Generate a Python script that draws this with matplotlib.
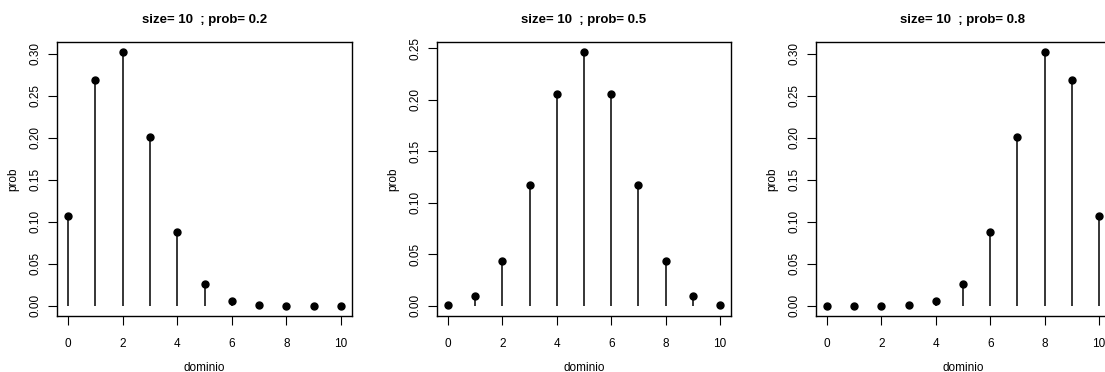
import numpy as np
from matplotlib import pyplot as plt

plt.rcParams['font.family'] = ['Liberation Sans', 'DejaVu Sans']

dominio = [0, 1, 2, 3, 4, 5, 6, 7, 8, 9, 10]
size = 10
probs = [0.2, 0.5, 0.8]

# values
prob_02 = [0.1074, 0.2684, 0.3020, 0.2013, 0.0881, 0.0264, 0.0055, 0.0008, 0.0001, 0.0000, 0.0000]
prob_05 = [0.0010, 0.0098, 0.0439, 0.1172, 0.2051, 0.2461, 0.2051, 0.1172, 0.0439, 0.0098, 0.0010]
prob_08 = [0.0000, 0.0000, 0.0001, 0.0008, 0.0055, 0.0264, 0.0881, 0.2013, 0.3020, 0.2684, 0.1074]
series = [prob_02, prob_05, prob_08]

W, H = 1105, 372
fig = plt.figure(figsize=(W / 100, H / 100), dpi=100)

# axes boxes in pixels: left, right
boxes = [(57, 352), (437, 731), (816, 1110)]
top, bottom = 42, 316

for (l, r), p, y in zip(boxes, probs, series):
    ax = fig.add_axes([l / W, (H - bottom) / H, (r - l) / W, (bottom - top) / H])
    ax.vlines(dominio, 0, y, color='black', lw=1.1)
    ax.plot(dominio, y, 'o', color='black', ms=5)

    ymax = max(y)
    ax.set_xlim(-0.4, 10.4)
    ax.set_ylim(-0.04 * ymax, 1.04 * ymax)
    ax.set_xticks([0, 2, 4, 6, 8, 10])
    yt = np.arange(0, 1.04 * ymax, 0.05)
    ax.set_yticks(yt)
    ax.set_yticklabels(['%.2f' % v for v in yt], rotation=90, va='center')
    ax.tick_params(direction='out', length=6.5, width=0.8, labelsize=8.5, color='black')
    ax.tick_params(axis='x', pad=9)
    ax.tick_params(axis='y', pad=5)
    for s in ax.spines.values():
        s.set_linewidth(1.0)

    ax.set_title('size= %d  ; prob= %s' % (size, p), fontsize=9.5, fontweight='bold', pad=14)
    ax.set_xlabel('dominio', fontsize=8.5, labelpad=9)
    ax.set_ylabel('prob', fontsize=8.5, labelpad=7)

plt.savefig('out.png', dpi=100)
